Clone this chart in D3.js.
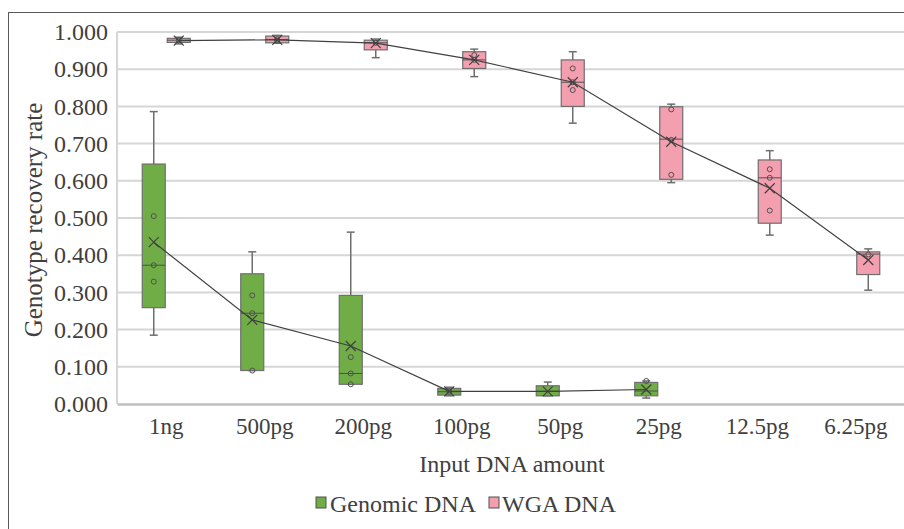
<!DOCTYPE html>
<html>
<head>
<meta charset="utf-8">
<script src="https://cdn.jsdelivr.net/npm/d3@7"></script>
<style>
  html, body { margin: 0; padding: 0; background: #fff; }
  svg text { font-family: "Liberation Serif", "Times New Roman", Times, "DejaVu Serif", serif !important; }
</style>
</head>
<body>
<div id="chart"></div>
<script>
const categories = ['1ng', '500pg', '200pg', '100pg', '50pg', '25pg', '12.5pg', '6.25pg']
const seriesNames = ['Genomic DNA', 'WGA DNA']
const yTicks = [0, 0.1, 0.2, 0.3, 0.4, 0.5, 0.6, 0.7, 0.8, 0.9, 1.0]

// Genomic DNA (no data for 12.5pg / 6.25pg)
const genomicMin = [0.185, 0.090, 0.053, 0.022, 0.022, 0.016]
const genomicQ1 = [0.259, 0.090, 0.053, 0.024, 0.022, 0.022]
const genomicMedian = [0.373, 0.244, 0.082, 0.033, 0.034, 0.035]
const genomicQ3 = [0.645, 0.350, 0.292, 0.042, 0.049, 0.058]
const genomicMax = [0.786, 0.409, 0.462, 0.045, 0.059, 0.062]
const genomicMean = [0.435, 0.226, 0.156, 0.034, 0.034, 0.039]
const genomicPoints = [[0.505, 0.373, 0.329], [0.292, 0.244, 0.090], [0.126, 0.082, 0.053], [0.033], [], [0.062]]

// WGA DNA
const wgaMin = [0.968, 0.970, 0.931, 0.880, 0.755, 0.595, 0.454, 0.306]
const wgaQ1 = [0.972, 0.971, 0.952, 0.902, 0.800, 0.604, 0.486, 0.348]
const wgaMedian = [0.978, 0.980, 0.971, 0.925, 0.865, 0.712, 0.608, 0.403]
const wgaQ3 = [0.983, 0.989, 0.978, 0.947, 0.925, 0.799, 0.656, 0.409]
const wgaMax = [0.986, 0.991, 0.981, 0.954, 0.947, 0.806, 0.681, 0.417]
const wgaMean = [0.977, 0.979, 0.970, 0.925, 0.865, 0.705, 0.580, 0.387]
const wgaPoints = [[0.978], [0.980, 0.976], [0.971], [0.938, 0.925], [0.902, 0.865, 0.844], [0.792, 0.710, 0.616], [0.631, 0.608, 0.520], [0.402]]

const colors = { 'Genomic DNA': '#70ad47', 'WGA DNA': '#f49fb0' }

function buildSeries(name, mins, q1s, meds, q3s, maxs, means, points) {
  return mins.map((m, i) => ({
    series: name, cat: categories[i],
    min: m, q1: q1s[i], median: meds[i], q3: q3s[i], max: maxs[i],
    mean: means[i], points: points[i]
  }))
}

const series = [
  buildSeries('Genomic DNA', genomicMin, genomicQ1, genomicMedian, genomicQ3, genomicMax, genomicMean, genomicPoints),
  buildSeries('WGA DNA', wgaMin, wgaQ1, wgaMedian, wgaQ3, wgaMax, wgaMean, wgaPoints)
]

const width = 904, height = 529
const plot = { left: 117, right: 905, top: 32, bottom: 404 }
const textColor = '#404040'

const svg = d3.select('#chart').append('svg')
  .attr('width', width)
  .attr('height', height)

// outer chart border
svg.append('rect')
  .attr('x', 8.5).attr('y', 12.5)
  .attr('width', 1000).attr('height', 1000)
  .attr('fill', 'none')
  .attr('stroke', '#595959')
  .attr('stroke-width', 1)

const x = d3.scaleBand().domain(categories).range([plot.left, plot.right])
const xs = d3.scaleBand().domain(seriesNames)
  .range([x.bandwidth() / 2 - 24, x.bandwidth() / 2 + 24])
  .paddingInner(0.08)
const y = d3.scaleLinear().domain([0, 1]).range([plot.bottom, plot.top])

// gridlines
svg.append('g').selectAll('line')
  .data(yTicks.slice(1))
  .join('line')
  .attr('x1', plot.left).attr('x2', plot.right)
  .attr('y1', d => y(d)).attr('y2', d => y(d))
  .attr('stroke', '#d6d6d6')
  .attr('stroke-width', 2)

// left edge of plot area
svg.append('line')
  .attr('x1', plot.left).attr('x2', plot.left)
  .attr('y1', plot.top).attr('y2', plot.bottom)
  .attr('stroke', '#d6d6d6').attr('stroke-width', 2)

// y axis
const yAxis = svg.append('g')
  .attr('transform', `translate(${plot.left},0)`)
  .call(d3.axisLeft(y).tickValues(yTicks).tickFormat(d3.format('.3f')).tickSize(0).tickPadding(9))
yAxis.select('.domain').remove()
yAxis.selectAll('text')
  .attr('font-size', 24)
  .attr('fill', textColor)

// x axis
const xAxis = svg.append('g')
  .attr('transform', `translate(0,${plot.bottom})`)
  .call(d3.axisBottom(x).tickSize(0).tickPadding(14))
xAxis.select('.domain')
  .attr('stroke', '#bfbfbf')
  .attr('stroke-width', 2.5)
xAxis.selectAll('text')
  .attr('font-size', 23)
  .attr('fill', textColor)

// axis titles
svg.append('text')
  .attr('transform', `translate(42,${(plot.top + plot.bottom) / 2 + 2}) rotate(-90)`)
  .attr('text-anchor', 'middle')
  .attr('font-size', 25)
  .attr('fill', textColor)
  .text('Genotype recovery rate')

svg.append('text')
  .attr('x', 512).attr('y', 472)
  .attr('text-anchor', 'middle')
  .attr('font-size', 24)
  .attr('fill', textColor)
  .text('Input DNA amount')

// boxes
const boxStroke = '#6e6e6e'
series.forEach(data => {
  const g = svg.append('g').attr('class', 'series')
  const node = g.selectAll('g')
    .data(data)
    .join('g')
    .attr('transform', d => `translate(${x(d.cat) + xs(d.series)},0)`)

  const bw = xs.bandwidth()
  const cx = bw / 2

  // whiskers
  node.append('line')
    .attr('x1', cx).attr('x2', cx)
    .attr('y1', d => y(d.max)).attr('y2', d => y(d.q3))
    .attr('stroke', boxStroke).attr('stroke-width', 1.5)
  node.append('line')
    .attr('x1', cx).attr('x2', cx)
    .attr('y1', d => y(d.q1)).attr('y2', d => y(d.min))
    .attr('stroke', boxStroke).attr('stroke-width', 1.5)
  node.append('line')
    .attr('x1', cx - 4).attr('x2', cx + 4)
    .attr('y1', d => y(d.max)).attr('y2', d => y(d.max))
    .attr('stroke', boxStroke).attr('stroke-width', 1.5)
  node.append('line')
    .attr('x1', cx - 4).attr('x2', cx + 4)
    .attr('y1', d => y(d.min)).attr('y2', d => y(d.min))
    .attr('stroke', boxStroke).attr('stroke-width', 1.5)

  // box
  node.append('rect')
    .attr('x', 0)
    .attr('y', d => y(d.q3))
    .attr('width', bw)
    .attr('height', d => Math.max(1, y(d.q1) - y(d.q3)))
    .attr('fill', d => colors[d.series])
    .attr('stroke', boxStroke)
    .attr('stroke-width', 1.2)

  // median
  node.append('line')
    .attr('x1', 0).attr('x2', bw)
    .attr('y1', d => y(d.median)).attr('y2', d => y(d.median))
    .attr('stroke', '#505050').attr('stroke-width', 1)

  // inner points
  node.selectAll('circle')
    .data(d => d.points)
    .join('circle')
    .attr('cx', cx)
    .attr('cy', d => y(d))
    .attr('r', 2.5)
    .attr('fill', 'none')
    .attr('stroke', '#505050')
    .attr('stroke-width', 1)

  // mean line
  g.append('path')
    .datum(data)
    .attr('fill', 'none')
    .attr('stroke', '#404040')
    .attr('stroke-width', 1.2)
    .attr('d', d3.line()
      .x(d => x(d.cat) + xs(d.series) + cx)
      .y(d => y(d.mean)))

  // mean markers
  node.append('path')
    .attr('d', d => {
      const my = y(d.mean), s = 5
      return `M${cx - s},${my - s}L${cx + s},${my + s}M${cx - s},${my + s}L${cx + s},${my - s}`
    })
    .attr('stroke', '#404040')
    .attr('stroke-width', 1.2)
    .attr('fill', 'none')
})

// legend
const legend = svg.append('g').attr('transform', 'translate(316,0)')
const legendItems = [
  { name: 'Genomic DNA', x: 0, tx: 14 },
  { name: 'WGA DNA', x: 173, tx: 186 }
]
legendItems.forEach(item => {
  legend.append('rect')
    .attr('x', item.x).attr('y', 497)
    .attr('width', 10).attr('height', 11)
    .attr('fill', colors[item.name])
    .attr('stroke', '#505050')
    .attr('stroke-width', 1)
  legend.append('text')
    .attr('x', item.tx).attr('y', 512)
    .attr('font-size', 24)
    .attr('fill', textColor)
    .text(item.name)
})
</script>
</body>
</html>
